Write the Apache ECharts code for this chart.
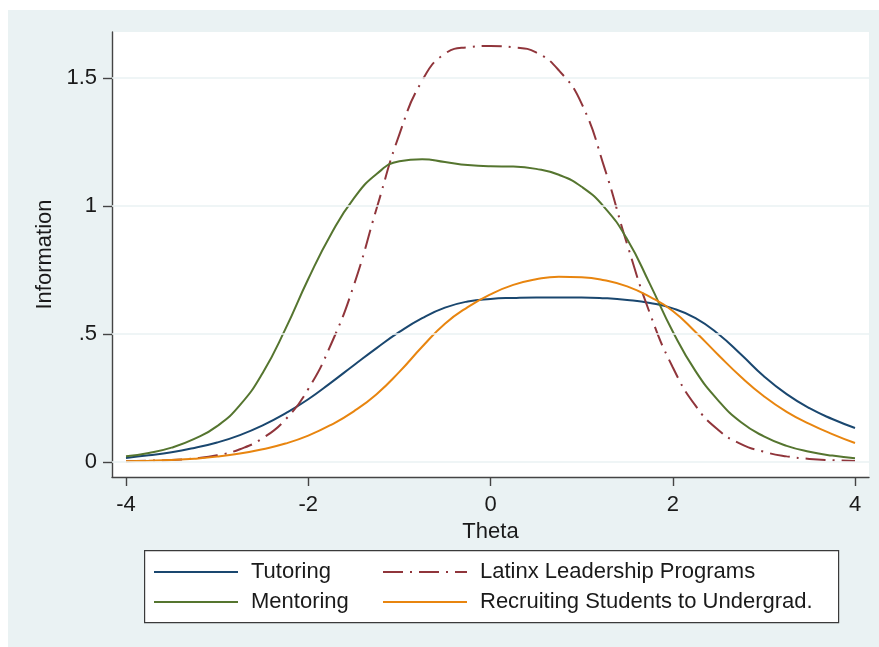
<!DOCTYPE html>
<html>
<head>
<meta charset="utf-8">
<script src="https://cdn.jsdelivr.net/npm/echarts@6/dist/echarts.min.js"></script>
<style>
html,body{margin:0;padding:0;background:#ffffff;width:879px;height:647px;overflow:hidden;}
#chart{position:absolute;left:8px;top:10px;width:871px;height:637px;background:#EAF2F3;}
</style>
</head>
<body>
<div id="chart"></div>
<script>
const theta = [-4,-3.75,-3.5,-3.25,-3,-2.75,-2.5,-2.25,-2,-1.75,-1.5,-1.25,-1,-0.75,-0.5,-0.25,0,0.25,0.5,0.75,1,1.25,1.5,1.75,2,2.25,2.5,2.75,3,3.25,3.5,3.75,4];
const tutoring = [0.016,0.026,0.038,0.055,0.076,0.105,0.143,0.19,0.245,0.31,0.378,0.445,0.508,0.562,0.603,0.627,0.637,0.641,0.643,0.643,0.643,0.64,0.633,0.621,0.60,0.562,0.50,0.42,0.335,0.265,0.21,0.168,0.133];
const latinx = [0.003,0.005,0.008,0.014,0.026,0.05,0.093,0.166,0.285,0.46,0.69,0.99,1.28,1.49,1.595,1.62,1.625,1.62,1.60,1.53,1.40,1.15,0.85,0.58,0.37,0.22,0.125,0.07,0.04,0.022,0.012,0.007,0.004];
const mentoring = [0.022,0.035,0.056,0.09,0.14,0.222,0.348,0.52,0.715,0.89,1.03,1.125,1.175,1.183,1.172,1.16,1.155,1.154,1.145,1.122,1.075,0.995,0.87,0.695,0.51,0.355,0.24,0.155,0.10,0.063,0.04,0.025,0.015];
const recruiting = [0.003,0.005,0.008,0.013,0.021,0.033,0.05,0.072,0.103,0.145,0.198,0.265,0.352,0.45,0.54,0.605,0.655,0.692,0.714,0.724,0.722,0.71,0.686,0.645,0.59,0.508,0.418,0.332,0.257,0.196,0.149,0.109,0.074];
const seriesNames = ['Tutoring','Latinx Leadership Programs','Mentoring','Recruiting Students to Undergrad.'];
const xTicks = [-4,-2,0,2,4];
const xTickLabels = ['-4','-2','0','2','4'];
const yTicks = [0,0.5,1,1.5];
const yTickLabels = ['0','.5','1','1.5'];

const FONT = '"Liberation Sans", Arial, sans-serif';
const TXT = '#1a1a1a';
const FS = 22;
const zip = (xs, ys) => xs.map((x,i)=>[x, ys[i]]);

const chart = echarts.init(document.getElementById('chart'), null, {renderer:'canvas'});
const lineSeries = (name, ys, color, type) => ({
  name, type:'line', data: zip(theta, ys), smooth: 0.5,
  symbol:'none', showSymbol:false, z: 3,
  lineStyle:{color, width:2, type: type || 'solid', cap:'butt'},
  itemStyle:{color}
});
const legendAt = (name, left, top) => ({
  data:[name], left, top, padding:0, itemWidth:84, itemHeight:14, itemGap:0,
  selectedMode:false,
  itemStyle:{color:'rgba(0,0,0,0)', borderWidth:0, opacity:0},
  textStyle:{fontFamily:FONT, fontSize:FS, color:TXT, lineHeight:24, padding:[0,0,0,8]}
});

chart.setOption({
  animation:false,
  backgroundColor:'transparent',
  grid:{left:104, top:22, width:757, height:445, show:true, backgroundColor:'#ffffff', borderWidth:0, containLabel:false},
  xAxis:{
    type:'value', min:-4.1536, max:4.1536,
    name:'Theta', nameLocation:'middle', nameGap:34,
    nameTextStyle:{fontFamily:FONT, fontSize:FS, color:TXT},
    axisLine:{show:true, onZero:false, lineStyle:{color:'#444', width:1.4}},
    axisTick:{show:true, customValues:xTicks, length:9, lineStyle:{color:'#444', width:1.4}},
    axisLabel:{customValues:xTicks, margin:17, fontFamily:FONT, fontSize:FS, color:TXT,
      formatter:(v)=>{const i=xTicks.indexOf(v); return i>=0?xTickLabels[i]:'';}},
    splitLine:{show:false}
  },
  yAxis:{
    type:'value', min:-0.0586, max:1.6797,
    name:'Information', nameLocation:'middle', nameGap:55,
    nameTextStyle:{fontFamily:FONT, fontSize:FS, color:TXT},
    axisLine:{show:true, onZero:false, lineStyle:{color:'#444', width:1.4}},
    axisTick:{show:true, customValues:yTicks, length:9, lineStyle:{color:'#444', width:1.4}},
    axisLabel:{customValues:yTicks, margin:15, fontFamily:FONT, fontSize:FS, color:TXT,
      formatter:(v)=>{const i=yTicks.indexOf(v); return i>=0?yTickLabels[i]:'';}},
    splitLine:{show:false}
  },
  legend:[
    legendAt(seriesNames[0], 145, 550),
    legendAt(seriesNames[1], 374, 550),
    legendAt(seriesNames[2], 145, 580),
    legendAt(seriesNames[3], 374, 580)
  ],
  graphic:[{type:'rect', left:136, top:540, shape:{width:694, height:72}, z:-1,
    style:{fill:'#ffffff', stroke:'#3a3a3a', lineWidth:1.2}}],
  series:[
    {name:'grid', type:'line', data:[], z:1, silent:true,
      markLine:{silent:true, symbol:'none', label:{show:false}, animation:false,
        lineStyle:{color:'#EAF2F3', width:1.6, type:'solid'},
        data: yTicks.map(v=>({yAxis:v}))}},
    lineSeries(seriesNames[0], tutoring, '#1A476F'),
    lineSeries(seriesNames[1], latinx, '#90353B', [20,7,2,7]),
    lineSeries(seriesNames[2], mentoring, '#55752F'),
    lineSeries(seriesNames[3], recruiting, '#E8850F')
  ]
});
</script>
</body>
</html>
